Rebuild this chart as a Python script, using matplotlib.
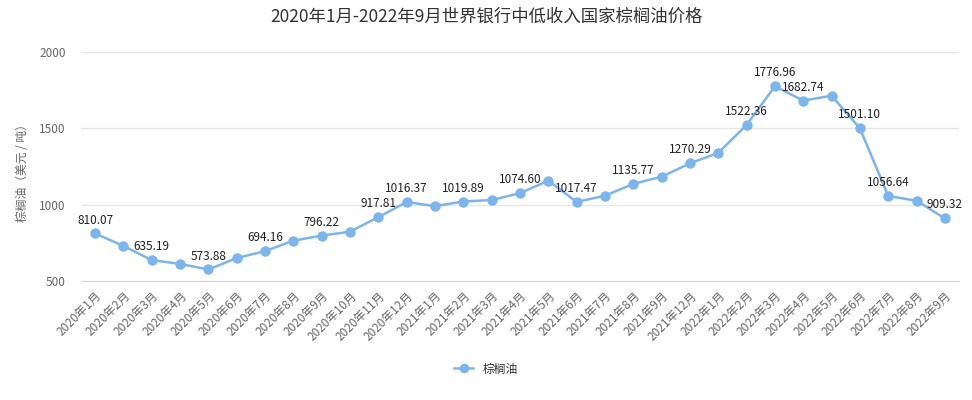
import matplotlib
matplotlib.use('Agg')
import matplotlib.pyplot as plt

plt.rcParams['font.family'] = ['Noto Sans CJK SC', 'DejaVu Sans']

months = ['2020年1月', '2020年2月', '2020年3月', '2020年4月', '2020年5月', '2020年6月',
          '2020年7月', '2020年8月', '2020年9月', '2020年10月', '2020年11月', '2020年12月',
          '2021年1月', '2021年2月', '2021年3月', '2021年4月', '2021年5月', '2021年6月',
          '2021年7月', '2021年8月', '2021年9月', '2021年12月',
          '2022年1月', '2022年2月', '2022年3月', '2022年4月', '2022年5月', '2022年6月',
          '2022年7月', '2022年8月', '2022年9月']
prices = [810.07, 728, 635.19, 610, 573.88, 649, 694.16, 763, 796.22, 822, 917.81, 1016.37,
          990, 1019.89, 1030, 1074.60, 1157, 1017.47, 1058, 1135.77, 1183, 1270.29,
          1340, 1522.36, 1776.96, 1682.74, 1715, 1501.10, 1056.64, 1025, 909.32]
# points whose value label is shown in the original
labeled = [0, 2, 4, 6, 8, 10, 11, 13, 15, 17, 19, 21, 23, 24, 25, 27, 28, 30]

color = '#7cb5ec'

fig = plt.figure(figsize=(9.72, 4.0), dpi=100)
ax = fig.add_axes([81 / 972, 1 - 280.7 / 400, 878 / 972, (280.7 - 52.3) / 400])

x = list(range(len(months)))
ax.plot(x, prices, color=color, lw=1.8, marker='o', markersize=6.5, label='棕榈油', zorder=3)

for i in labeled:
    ax.annotate('%.2f' % prices[i], (i, prices[i]), xytext=(0, 5), textcoords='offset points',
                ha='center', va='bottom', fontsize=8.5, color='#222222', zorder=4)

ax.set_xlim(-0.5, len(months) - 0.5)
ax.set_ylim(500, 2000)
ax.set_yticks([500, 1000, 1500, 2000])
ax.set_xticks(x)
ax.set_xticklabels(months, rotation=45, ha='right', rotation_mode='anchor')
ax.tick_params(axis='both', length=0, labelsize=8.5, colors='#666666')
ax.tick_params(axis='x', pad=6)
ax.tick_params(axis='y', pad=11)

ax.grid(axis='y', color='#e6e6e6', lw=1)
for s in ['top', 'right', 'left']:
    ax.spines[s].set_visible(False)
ax.spines['bottom'].set_color('#ccd6eb')

fig.text(22 / 972, 1 - 170 / 400, '棕榈油（美元 / 吨）', rotation=90, ha='center', va='center',
         fontsize=8.5, color='#666666')
fig.suptitle('2020年1月-2022年9月世界银行中低收入国家棕榈油价格', x=0.5, y=1 - 17 / 400,
             va='center', fontsize=12.5, color='#333333')

fig.legend(loc='center', bbox_to_anchor=(486 / 972, 1 - 369 / 400), frameon=False,
           fontsize=8.5, labelcolor='#333333', handlelength=1.6, markerscale=0.9)

fig.savefig('out.png', dpi=100)
